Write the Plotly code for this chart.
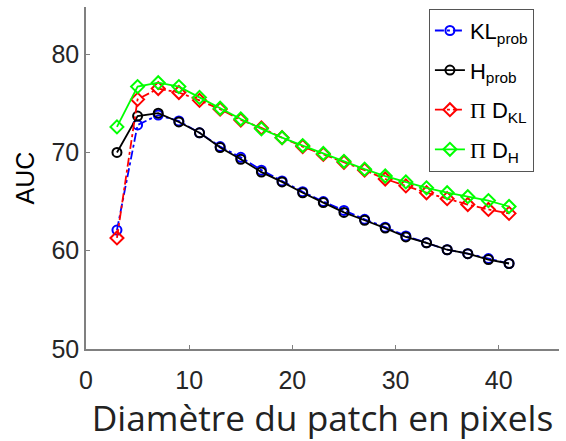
import plotly.graph_objects as go

diam = [3, 5, 7, 9, 11, 13, 15, 17, 19, 21, 23, 25, 27, 29, 31, 33, 35, 37, 39, 41]
kl_prob = [62.1, 72.8, 73.8, 73.2, 72.0, 70.6, 69.5, 68.2, 67.1, 66.0, 65.0, 64.1, 63.2, 62.4, 61.5, 60.8, 60.1, 59.7, 59.2, 58.7]
h_prob = [70.0, 73.7, 74.0, 73.1, 72.0, 70.5, 69.3, 68.0, 67.0, 65.9, 64.9, 63.9, 63.1, 62.3, 61.4, 60.8, 60.1, 59.7, 59.1, 58.7]
pi_dkl = [61.3, 75.4, 76.5, 76.1, 75.3, 74.4, 73.3, 72.5, 71.5, 70.6, 69.8, 69.0, 68.2, 67.3, 66.6, 65.9, 65.3, 64.7, 64.2, 63.8]
pi_dh = [72.6, 76.7, 77.1, 76.7, 75.6, 74.5, 73.4, 72.4, 71.5, 70.7, 69.9, 69.1, 68.3, 67.6, 67.0, 66.4, 65.9, 65.5, 65.1, 64.5]

PI = "<span style='font-family:Liberation Serif'>Π</span>"
names = ["KL<sub>prob</sub>", "H<sub>prob</sub>", PI + " D<sub>KL</sub>", PI + " D<sub>H</sub>"]
series = [kl_prob, h_prob, pi_dkl, pi_dh]
colors = ["#0000ff", "#000000", "#ff0000", "#00ff00"]
dashes = ["dashdot", "solid", "dashdot", "solid"]
symbols = ["circle-open", "circle-open", "diamond-open", "diamond-open"]
sizes = [9, 9, 10, 10]

fig = go.Figure()
for i, (name, ys, c, d, s, sz) in enumerate(zip(names, series, colors, dashes, symbols, sizes)):
    fig.add_trace(go.Scatter(
        x=diam, y=ys, name=name, mode="lines+markers", legendgroup=f"g{i}",
        line=dict(color=c, width=1.8, dash=d),
        marker=dict(symbol=s, size=sz, color=c, line=dict(color=c, width=2)),
    ))

fig.update_layout(
    width=566, height=441,
    margin=dict(l=86, r=7, t=7, b=92),
    paper_bgcolor="white", plot_bgcolor="white",
    font=dict(family="Liberation Sans, Arial", color="#262626"),
    showlegend=True,
    legend=dict(
        x=0.725, y=0.995, xanchor="left", yanchor="top",
        bgcolor="white", bordercolor="#555555", borderwidth=1,
        font=dict(family="Liberation Sans, Arial", size=22, color="#000000"),
        tracegroupgap=8, itemwidth=30,
    ),
)
fig.update_xaxes(
    range=[0, 45.84], tickvals=[0, 10, 20, 30, 40],
    showline=True, linecolor="#808080", linewidth=1.5,
    ticks="inside", ticklen=4, tickcolor="#808080",
    showgrid=False, zeroline=False, automargin=False,
    tickfont=dict(size=25, color="#262626"),
    ticklabelstandoff=8,
    title=dict(text="Diamètre du patch en pixels",
               font=dict(family="Open Sans", size=35.3, color="#222222"),
               standoff=0),
)
fig.update_yaxes(
    range=[50, 84.8], tickvals=[50, 60, 70, 80],
    showline=True, linecolor="#808080", linewidth=1.5,
    ticks="inside", ticklen=4, tickcolor="#808080",
    showgrid=False, zeroline=False, automargin=False,
    tickfont=dict(size=25, color="#262626"),
    title=dict(text="AUC", font=dict(family="Liberation Sans, Arial", size=25, color="#000000"),
               standoff=10),
)

fig.write_html("out.html", config={"displayModeBar": False},
               post_script="document.body.style.margin='0';")
